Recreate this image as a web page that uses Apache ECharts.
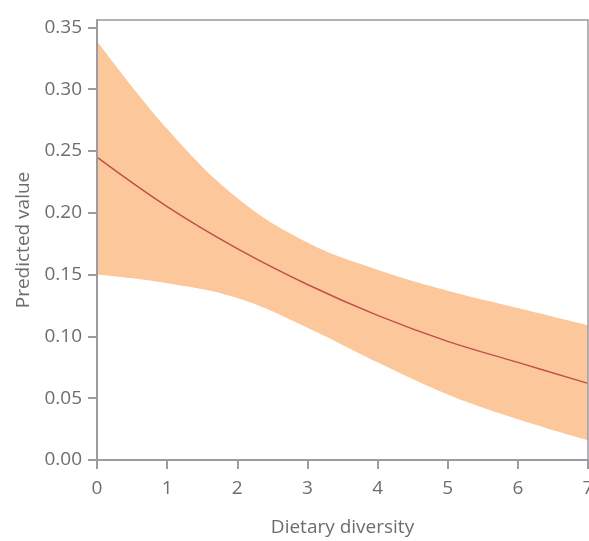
<!DOCTYPE html>
<html>
<head>
<meta charset="utf-8">
<script src="https://cdn.jsdelivr.net/npm/echarts@6/dist/echarts.min.js"></script>
<style>html,body{margin:0;padding:0;background:#fff}#c{width:589px;height:541px}</style>
</head>
<body>
<div id="c"></div>
<script>
const xValues = [0, 1, 2, 3, 4, 5, 6, 7];
const predicted = [0.245, 0.205, 0.171, 0.142, 0.117, 0.096, 0.079, 0.062];
const lowerBound = [0.150, 0.143, 0.131, 0.107, 0.079, 0.053, 0.033, 0.016];
const upperBound = [0.339, 0.268, 0.212, 0.176, 0.154, 0.137, 0.123, 0.109];
const yTicks = [0, 0.05, 0.10, 0.15, 0.20, 0.25, 0.30, 0.35];
const xTicks = [0, 1, 2, 3, 4, 5, 6, 7];

const font = '"Open Sans", sans-serif';
const textColor = '#6d6d6d';
const axisColor = '#9b9ba0';
const fs = 19;

const lowerData = xValues.map((x, i) => [x, lowerBound[i]]);
const upperData = xValues.map((x, i) => [x, upperBound[i]]);
const midData = xValues.map((x, i) => [x, predicted[i]]);

const chart = echarts.init(document.getElementById('c'), null, {renderer: 'canvas'});
chart.setOption({
  animation: false,
  grid: {left: 97, right: 1, top: 20, bottom: 81, outerBoundsMode: 'none', containLabel: false, show: true, z: 10, borderColor: axisColor, borderWidth: 1.5, backgroundColor: 'transparent'},
  xAxis: {
    type: 'value', min: 0, max: 7, interval: 1, z: 10,
    name: 'Dietary diversity', nameLocation: 'middle', nameGap: 58,
    nameTextStyle: {fontFamily: font, fontSize: fs, color: textColor},
    axisLine: {show: true, lineStyle: {color: axisColor, width: 2}},
    axisTick: {show: true, length: 9, lineStyle: {color: axisColor, width: 2}, customValues: xTicks},
    axisLabel: {fontFamily: font, fontSize: fs, color: textColor, margin: 19, customValues: xTicks, formatter: v => String(v)},
    splitLine: {show: false}
  },
  yAxis: {
    type: 'value', min: 0, max: 0.356, z: 10,
    name: 'Predicted value', nameLocation: 'middle', nameGap: 61,
    nameTextStyle: {fontFamily: font, fontSize: fs, color: textColor},
    axisLine: {show: true, lineStyle: {color: axisColor, width: 2}},
    axisTick: {show: true, length: 9, lineStyle: {color: axisColor, width: 2}, customValues: yTicks},
    axisLabel: {fontFamily: font, fontSize: fs, color: textColor, margin: 15, customValues: yTicks, formatter: v => v.toFixed(2)},
    splitLine: {show: false}
  },
  series: [
    {type: 'line', data: upperData, smooth: 0.4, symbol: 'none', lineStyle: {width: 0, opacity: 0}, areaStyle: {color: '#fcc89b', opacity: 1, origin: 'start'}, silent: true, z: 2},
    {type: 'line', data: lowerData, smooth: 0.4, symbol: 'none', lineStyle: {width: 0, opacity: 0}, areaStyle: {color: '#ffffff', opacity: 1, origin: 'start'}, silent: true, z: 3},
    {type: 'line', data: midData, smooth: 0.4, symbol: 'none', lineStyle: {color: '#c0504d', width: 1.5}, z: 5}
  ]
});
</script>
</body>
</html>
